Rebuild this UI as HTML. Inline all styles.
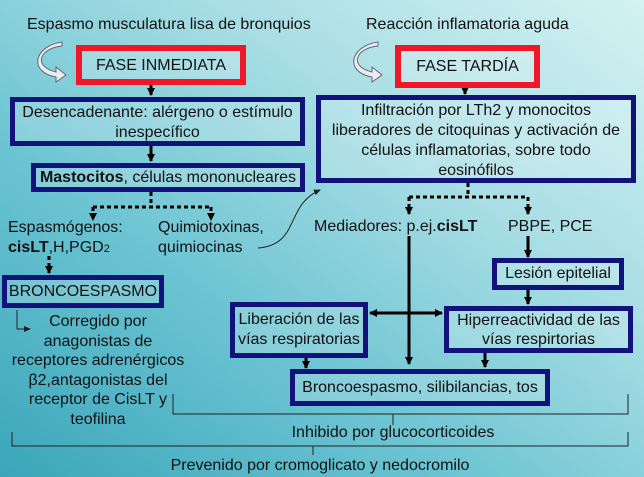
<!DOCTYPE html>
<html><head><meta charset="utf-8"><style>
*{margin:0;padding:0;box-sizing:border-box}
body{width:644px;height:477px;overflow:hidden;position:relative;font-family:"Liberation Sans",Arial,sans-serif;font-size:16px;color:#111;
background:linear-gradient(to top right,#3aa6ba 0%,#6cc4d2 35%,#a6dde4 65%,#d4f2f2 100%);}
.t{position:absolute;white-space:nowrap;line-height:20px}
.b{position:absolute;border:5px solid #12127a;background:rgba(255,255,255,0.18)}
.r{position:absolute;border:6px solid #f01828;background:rgba(255,255,255,0.2)}
.c{text-align:center}
svg{position:absolute;left:0;top:0}
</style></head><body>
<svg width="644" height="477">
<defs><marker id="a" markerWidth="8" markerHeight="8" refX="7" refY="4" orient="auto" markerUnits="userSpaceOnUse"><path d="M0,0 L8,4 L0,8z" fill="#000"/></marker>
<marker id="s" markerWidth="7" markerHeight="6" refX="6" refY="3" orient="auto" markerUnits="userSpaceOnUse"><path d="M0,0 L7,3 L0,6z" fill="#222"/></marker></defs>
<g stroke="#000" stroke-width="3" fill="none">
<line x1="151" y1="84" x2="151" y2="95" marker-end="url(#a)"/>
<line x1="151" y1="146" x2="151" y2="161" marker-end="url(#a)"/>
<line x1="465" y1="86" x2="465" y2="94" marker-end="url(#a)"/>
<g stroke-dasharray="4,3"><line x1="151" y1="192" x2="151" y2="207"/><line x1="93" y1="207" x2="211" y2="207"/><line x1="93" y1="207" x2="93" y2="220" marker-end="url(#a)"/><line x1="211" y1="207" x2="211" y2="220" marker-end="url(#a)"/>
<line x1="49" y1="256" x2="49" y2="273" marker-end="url(#a)"/>
<line x1="468" y1="183" x2="468" y2="197"/><line x1="409" y1="197" x2="528" y2="197"/><line x1="409" y1="197" x2="409" y2="214" marker-end="url(#a)"/><line x1="528" y1="197" x2="528" y2="214" marker-end="url(#a)"/></g>
<line x1="528" y1="236" x2="528" y2="257" marker-end="url(#a)"/>
<line x1="528" y1="290" x2="528" y2="304" marker-end="url(#a)"/>
<line x1="409" y1="236" x2="409" y2="364" marker-end="url(#a)"/>
<line x1="372" y1="313" x2="442" y2="313" marker-end="url(#a)"/>
<line x1="440" y1="313" x2="370" y2="313" marker-end="url(#a)"/>
<line x1="306" y1="358" x2="306" y2="368" marker-end="url(#a)"/>
<line x1="485" y1="353" x2="485" y2="367" marker-end="url(#a)"/>
</g>
<g stroke="#222" stroke-width="1" fill="none">
<path d="M258,248 C300,245 285,205 320,190" marker-end="url(#s)"/>
<path d="M17,310 V329 H30" marker-end="url(#s)"/>
<path d="M173,394 V414 H628 V394 M393,414 V425"/>
<path d="M12,432 V446 H628 V432 M313,446 V455"/>
</g>
<g fill="#e8eeee" stroke="#667" stroke-width="1">
<path d="M62,46 C40,48 32,66 56,72 L56,67 L66,75 L56,82 L56,77 C28,72 34,46 62,42z"/>
<path d="M378,46 C356,48 348,66 372,72 L372,67 L382,75 L372,82 L372,77 C344,72 350,46 378,42z"/>
</g>
</svg>
<div class="t" style="left:27px;top:15px">Espasmo musculatura lisa de bronquios</div>
<div class="t" style="left:366px;top:15px">Reacción inflamatoria aguda</div>
<div class="r c" style="left:76px;top:45px;width:170px;height:40px;line-height:30px">FASE INMEDIATA</div>
<div class="r c" style="left:395px;top:45px;width:145px;height:43px;line-height:31px">FASE TARDÍA</div>
<div class="b c" style="left:10px;top:97px;width:295px;height:49px;line-height:20px;padding-top:1px">Desencadenante: alérgeno o estímulo<br>inespecífico</div>
<div class="b c" style="left:31px;top:163px;width:274px;height:29px;line-height:19px"><b>Mastocitos</b>, células mononucleares</div>
<div class="b c" style="left:316px;top:95px;width:320px;height:88px;line-height:20px;padding-top:1px">Infiltración por LTh2 y monocitos<br>liberadores de citoquinas y activación de<br>células inflamatorias, sobre todo<br>eosinófilos</div>
<div class="t" style="left:8px;top:218px">Espasmógenos:</div>
<div class="t" style="left:8px;top:238px"><b>cisLT</b>,H,PGD<span style="font-size:11px">2</span></div>
<div class="t" style="left:158px;top:218px">Quimiotoxinas,</div>
<div class="t" style="left:158px;top:238px">quimiocinas</div>
<div class="t" style="left:314px;top:217px">Mediadores: p.ej.<b>cisLT</b></div>
<div class="t" style="left:508px;top:217px">PBPE, PCE</div>
<div class="b c" style="left:2px;top:275px;width:162px;height:33px;line-height:23px">BRONCOESPASMO</div>
<div class="t c" style="left:6px;top:312px;width:184px;line-height:19.6px">Corregido por<br>anagonistas de<br>receptores adrenérgicos<br>β2,antagonistas del<br>receptor de CisLT y<br>teofilina</div>
<div class="b c" style="left:492px;top:258px;width:132px;height:32px;line-height:22px">Lesión epitelial</div>
<div class="b c" style="left:230px;top:302px;width:138px;height:56px;line-height:20px;padding-top:3px">Liberación de las<br>vías respiratorias</div>
<div class="b c" style="left:444px;top:306px;width:189px;height:47px;line-height:19px">Hiperreactividad de las<br>vías respirtorias</div>
<div class="b c" style="left:290px;top:369px;width:260px;height:37px;line-height:27px">Broncoespasmo, silibilancias, tos</div>
<div class="t c" style="left:193px;top:423px;width:400px">Inhibido por glucocorticoides</div>
<div class="t c" style="left:120px;top:456px;width:400px">Prevenido por cromoglicato y nedocromilo</div>
</body></html>
